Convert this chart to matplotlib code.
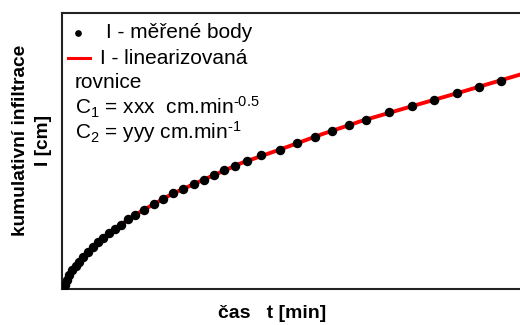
import matplotlib
matplotlib.use('Agg')
import matplotlib.pyplot as plt

plt.rcParams['font.family'] = ['Liberation Sans', 'DejaVu Sans']
plt.rcParams['mathtext.fontset'] = 'custom'
plt.rcParams['mathtext.rm'] = 'Liberation Sans'
plt.rcParams['mathtext.it'] = 'Liberation Sans:italic'
plt.rcParams['mathtext.bf'] = 'Liberation Sans:bold'

# measured points (t [min], I [cm])
t_meas = [0.6, 1.5, 2.4, 3.7, 5.2, 6.9, 8.5, 10.7, 13.2, 15.7, 18.2, 20.5, 23.5,
          26.3, 29.4, 32.9, 36.5, 40.8, 45.9, 50.7, 55.7, 60.7, 66.0, 71.0, 76.0,
          81.0, 86.7, 92.3, 99.5, 108.9, 117.4, 126.3, 134.9, 143.7, 152.2,
          163.4, 174.9, 185.8, 197.4, 208.4, 219.4]
i_meas = [0.1, 2.2, 4.7, 7.2, 9.4, 11.4, 13.6, 16.1, 18.4, 21.1, 23.7, 25.5, 28.2,
          30.0, 32.2, 35.0, 37.1, 39.5, 42.7, 45.2, 47.9, 50.2, 52.7, 54.7, 57.2,
          59.4, 61.7, 63.9, 66.9, 69.7, 73.1, 76.1, 79.1, 82.1, 84.7,
          88.6, 91.4, 94.7, 97.9, 100.9, 104.2]

# linearized equation curve
t_lin = [0, 1, 2, 4, 7, 10, 15, 20, 30, 40, 55, 70, 90, 110, 130, 150, 175, 200, 229]
i_lin = [0, 1.2, 3.5, 7.6, 11.5, 15.3, 20.4, 25.1, 32.6, 39.1, 47.5, 54.3, 63.1,
         70.1, 77.4, 84.1, 91.4, 98.6, 107.2]

legend_texts = ['I - měřené body', 'I - linearizovaná', 'rovnice']
c1_text = r'C$_{\mathrm{1}}$ = xxx  cm.min$^{\text{-0.5}}$'
c2_text = r'C$_{\mathrm{2}}$ = yyy cm.min$^{\text{-1}}$'

fig = plt.figure(figsize=(5.2, 3.25), dpi=100)
ax = fig.add_axes([62 / 520, 36 / 325, 1 - 62 / 520, 276 / 325])

ax.plot(t_lin, i_lin, color='red', lw=2.8, zorder=2)
ax.plot(t_meas, i_meas, 'o', color='black', ms=5.8, zorder=3)

ax.set_xlim(0, 229)
ax.set_ylim(0, 138)
ax.set_xticks([])
ax.set_yticks([])
ax.spines['right'].set_visible(False)
for s in ['left', 'bottom', 'top']:
    ax.spines[s].set_linewidth(1.5)
    ax.spines[s].set_color('#222222')

# hand-made legend (pixel positions converted to figure fraction)
def fx(px):
    return px / 520

def fy(py):
    return 1 - py / 325

fig.lines.append(plt.Line2D([fx(78)], [fy(33)], marker='o', ms=3.8, color='black',
                            transform=fig.transFigure))
fig.lines.append(plt.Line2D([fx(68), fx(90)], [fy(58), fy(58)], color='red', lw=2.2,
                            transform=fig.transFigure))
fs = 15
fig.text(fx(106), fy(33), legend_texts[0], fontsize=fs, va='center')
fig.text(fx(100), fy(58), legend_texts[1], fontsize=fs, va='center')
fig.text(fx(75), fy(82), legend_texts[2], fontsize=fs, va='center')
fig.text(fx(75), fy(107), c1_text, fontsize=fs, va='center')
fig.text(fx(75), fy(132), c2_text, fontsize=fs, va='center')

fig.text(fx(21), fy(140), 'kumulativní infiltrace', rotation=90, fontsize=13.8,
         fontweight='bold', ha='center', va='center')
fig.text(fx(43), fy(140), 'I [cm]', rotation=90, fontsize=13.8,
         fontweight='bold', ha='center', va='center')
fig.text(fx(272), fy(313), 'čas   t [min]', fontsize=14, fontweight='bold',
         ha='center', va='center')

fig.savefig('out.png', dpi=100)
